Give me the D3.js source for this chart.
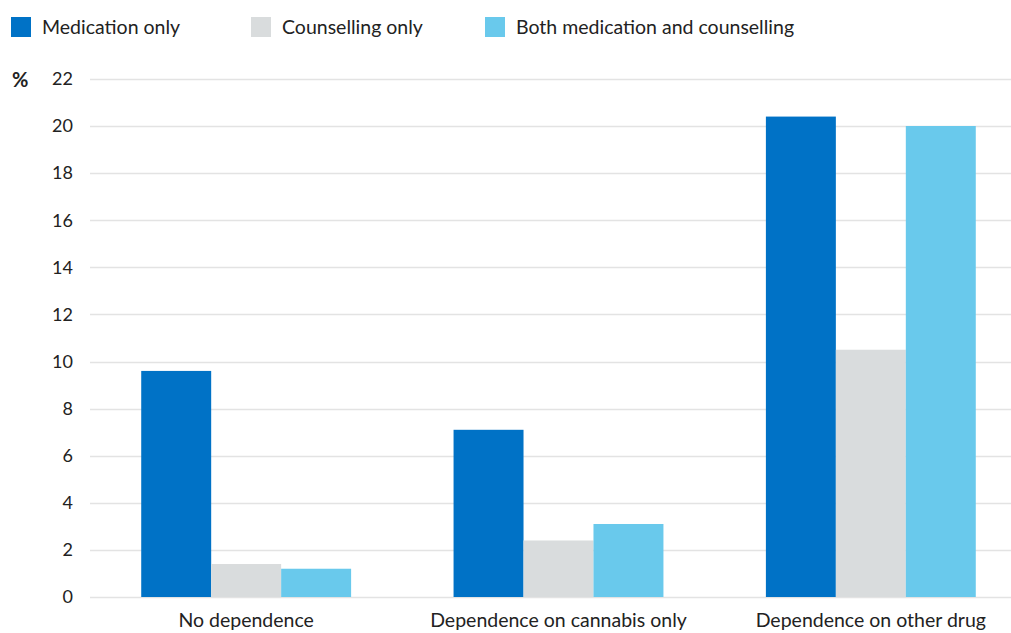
<!DOCTYPE html>
<html>
<head>
<meta charset="utf-8">
<script src="https://cdn.jsdelivr.net/npm/d3@7"></script>
<style>
  html, body { margin: 0; padding: 0; background: #fff; }
  svg { display: block; font-family: Lato, "Open Sans", sans-serif; }
</style>
</head>
<body>
<svg id="chart" width="1011" height="633"></svg>
<script>
const categories = ["No dependence", "Dependence on cannabis only", "Dependence on other drug"];
const seriesNames = ["Medication only", "Counselling only", "Both medication and counselling"];
const medicationOnly = [9.6, 7.1, 20.4];
const counsellingOnly = [1.4, 2.4, 10.5];
const bothMedCouns = [1.2, 3.1, 20.0];
const yTicks = [0, 2, 4, 6, 8, 10, 12, 14, 16, 18, 20, 22];
const colors = ["#0072C6", "#D9DCDD", "#69C9EC"];

const seriesValues = [medicationOnly, counsellingOnly, bothMedCouns];
const data = categories.map((c, i) => ({
  category: c,
  values: seriesNames.map((s, j) => ({ series: s, value: seriesValues[j][i], idx: j }))
}));

const svg = d3.select("#chart");
const left = 90, right = 1027, bottom = 597;

const y = d3.scaleLinear().domain([0, 20]).range([bottom, 126]);
const p = 0.328;
const x0 = d3.scaleBand().domain(categories).range([left, right]).paddingInner(p).paddingOuter(p / 2);
const x1 = d3.scaleBand().domain(seriesNames).range([0, x0.bandwidth()]);

// gridlines
svg.append("g").selectAll("line").data(yTicks).join("line")
  .attr("x1", left).attr("x2", 1011)
  .attr("y1", d => Math.round(y(d)) + 0.5).attr("y2", d => Math.round(y(d)) + 0.5)
  .attr("stroke", "#e3e3e3").attr("stroke-width", 1.5);

// y tick labels
svg.append("g").selectAll("text").data(yTicks).join("text")
  .attr("x", 73).attr("y", d => y(d))
  .attr("dy", "0.35em")
  .attr("text-anchor", "end")
  .attr("font-size", 18).attr("fill", "#222")
  .text(d => d);

svg.append("text").attr("x", 12).attr("y", y(22) + 1).attr("dy", "0.35em")
  .attr("font-size", 20).attr("font-weight", "bold").attr("fill", "#222").text("%");

// bars
const g = svg.append("g").selectAll("g").data(data).join("g")
  .attr("transform", d => `translate(${x0(d.category)},0)`);
g.selectAll("rect").data(d => d.values).join("rect")
  .attr("x", d => x1(d.series))
  .attr("width", x1.bandwidth())
  .attr("y", d => y(d.value))
  .attr("height", d => bottom - y(d.value))
  .attr("fill", d => colors[d.idx]);

// category labels
svg.append("g").selectAll("text").data(categories).join("text")
  .attr("x", d => x0(d) + x0.bandwidth() / 2)
  .attr("y", 627)
  .attr("text-anchor", "middle")
  .attr("font-size", 19.5).attr("fill", "#222")
  .text(d => d);

// legend
const legendX = [11, 251, 485];
const lg = svg.append("g").selectAll("g").data(seriesNames).join("g")
  .attr("transform", (d, i) => `translate(${legendX[i]},17)`);
lg.append("rect").attr("width", 20).attr("height", 20).attr("fill", (d, i) => colors[i]);
lg.append("text").attr("x", 31).attr("y", 17).attr("font-size", 19.5).attr("fill", "#222").text(d => d);
</script>
</body>
</html>
